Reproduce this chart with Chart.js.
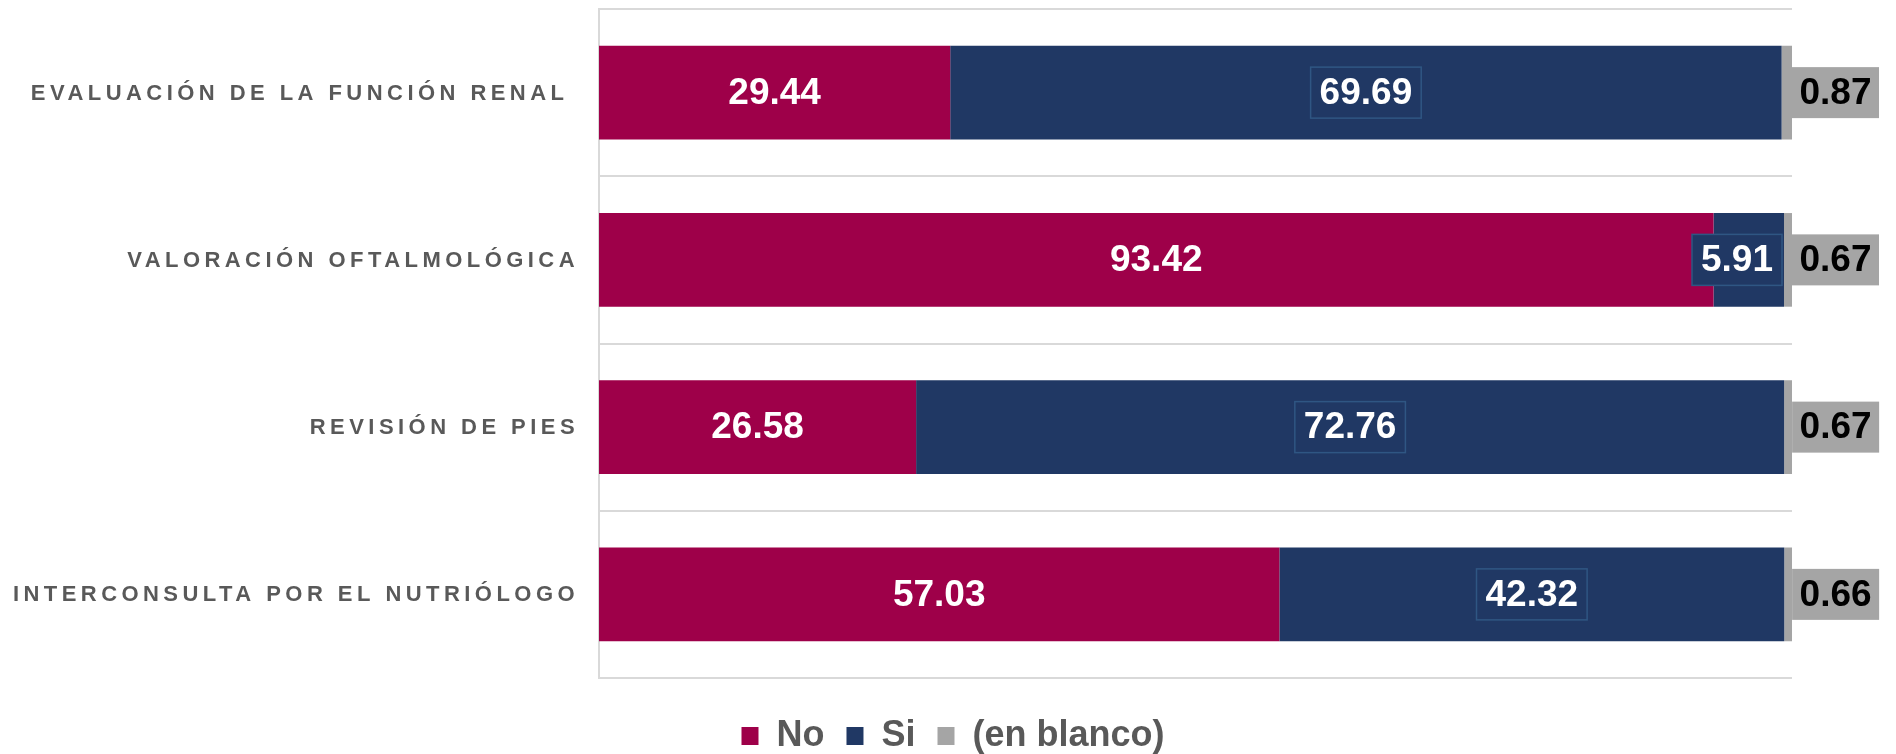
<!DOCTYPE html>
<html>
<head>
<meta charset="utf-8">
<script src="https://cdn.jsdelivr.net/npm/chart.js@4"></script>
<style>
  html, body { margin: 0; padding: 0; background: #fff; }
  #wrap { width: 1896px; height: 754px; position: relative; }
</style>
</head>
<body>
<div id="wrap"><canvas id="myChart"></canvas></div>
<script>
const categories = ['EVALUACIÓN DE LA FUNCIÓN RENAL ', 'VALORACIÓN OFTALMOLÓGICA', 'REVISIÓN DE PIES', 'INTERCONSULTA POR EL NUTRIÓLOGO'];
const noValues = [29.44, 93.42, 26.58, 57.03];
const siValues = [69.69, 5.91, 72.76, 42.32];
const blancoValues = [0.87, 0.67, 0.67, 0.66];
const seriesNames = ['No', 'Si', '(en blanco)'];
const seriesColors = ['#9e0049', '#203864', '#a5a5a5'];

const FAMILY = '"Liberation Sans", Arial, sans-serif';
const VALUE_FONT = 'bold 37px ' + FAMILY;

// value labels: white inside "No", boxed inside "Si", grey tag right of "(en blanco)"
const valueLabels = {
  id: 'valueLabels',
  afterDatasetsDraw(chart) {
    const ctx = chart.ctx;
    ctx.save();
    ctx.font = VALUE_FONT;
    ctx.textBaseline = 'middle';
    ctx.textAlign = 'center';
    chart.data.datasets.forEach((ds, di) => {
      chart.getDatasetMeta(di).data.forEach((bar, i) => {
        const txt = ds.data[i].toFixed(2);
        const w = ctx.measureText(txt).width;
        const left = Math.min(bar.base, bar.x), right = Math.max(bar.base, bar.x);
        let cx = (left + right) / 2;
        const cy = bar.y;
        if (di === 0) {
          ctx.fillStyle = '#fff';
          ctx.fillText(txt, cx, cy + 1);
        } else if (di === 1) {
          const bw = w + 18, bh = 51;
          if (bw > right - left) cx = right - bw / 2 - 2;
          ctx.fillStyle = seriesColors[1];
          ctx.fillRect(cx - bw / 2, cy - bh / 2, bw, bh);
          ctx.strokeStyle = '#2f5683';
          ctx.lineWidth = 1.5;
          ctx.strokeRect(cx - bw / 2, cy - bh / 2, bw, bh);
          ctx.fillStyle = '#fff';
          ctx.fillText(txt, cx, cy + 1);
        } else {
          const bw = w + 15, bh = 51;
          ctx.fillStyle = seriesColors[2];
          ctx.fillRect(right, cy - bh / 2, bw, bh);
          ctx.fillStyle = '#000';
          ctx.fillText(txt, right + bw / 2, cy + 1);
        }
      });
    });
    ctx.restore();
  }
};

// category labels with letter spacing
const yLabels = {
  id: 'yLabels',
  afterDraw(chart) {
    const ctx = chart.ctx, y = chart.scales.y;
    ctx.save();
    ctx.font = 'bold 22px ' + FAMILY;
    ctx.letterSpacing = '4.45px';
    ctx.fillStyle = '#595959';
    ctx.textAlign = 'right';
    ctx.textBaseline = 'middle';
    categories.forEach((c, i) => {
      ctx.fillText(c, chart.chartArea.left - 20, y.getPixelForValue(i) + 1);
    });
    ctx.restore();
  }
};

const data = {
  labels: categories,
  datasets: [
    { label: seriesNames[0], data: noValues, backgroundColor: seriesColors[0], borderWidth: 0 },
    { label: seriesNames[1], data: siValues, backgroundColor: seriesColors[1], borderWidth: 0 },
    { label: seriesNames[2], data: blancoValues, backgroundColor: seriesColors[2], borderWidth: 0 }
  ]
};

const config = {
  type: 'bar',
  data: data,
  plugins: [valueLabels, yLabels],
  options: {
    indexAxis: 'y',
    responsive: true,
    maintainAspectRatio: false,
    animation: false,
    categoryPercentage: 1,
    barPercentage: 0.56,
    layout: { padding: { left: 10, right: 0, top: 9, bottom: -10 } },
    scales: {
      x: {
        stacked: true,
        min: 0,
        max: 100,
        grid: { display: false },
        border: { display: false },
        ticks: { display: false },
        afterFit(s) { s.height = 18; }
      },
      y: {
        stacked: true,
        grid: { color: '#d9d9d9', lineWidth: 2, drawTicks: false, offset: true },
        border: { color: '#d9d9d9', width: 2 },
        ticks: { display: false },
        afterFit(s) { s.width = 589; }
      },
      // empty right-hand axis keeps room for the grey value tags
      y2: {
        type: 'category',
        axis: 'y',
        position: 'right',
        grid: { display: false },
        border: { display: false },
        ticks: { display: false },
        afterFit(s) { s.width = 104; }
      }
    },
    plugins: {
      tooltip: { enabled: false },
      legend: {
        position: 'bottom',
        labels: {
          font: { size: 36, weight: 'bold', family: FAMILY },
          color: '#595959',
          boxWidth: 17,
          boxHeight: 18,
          padding: 22
        }
      }
    }
  }
};

var ctx = document.getElementById('myChart');
var myChart = new Chart(ctx, config);
</script>
</body>
</html>
